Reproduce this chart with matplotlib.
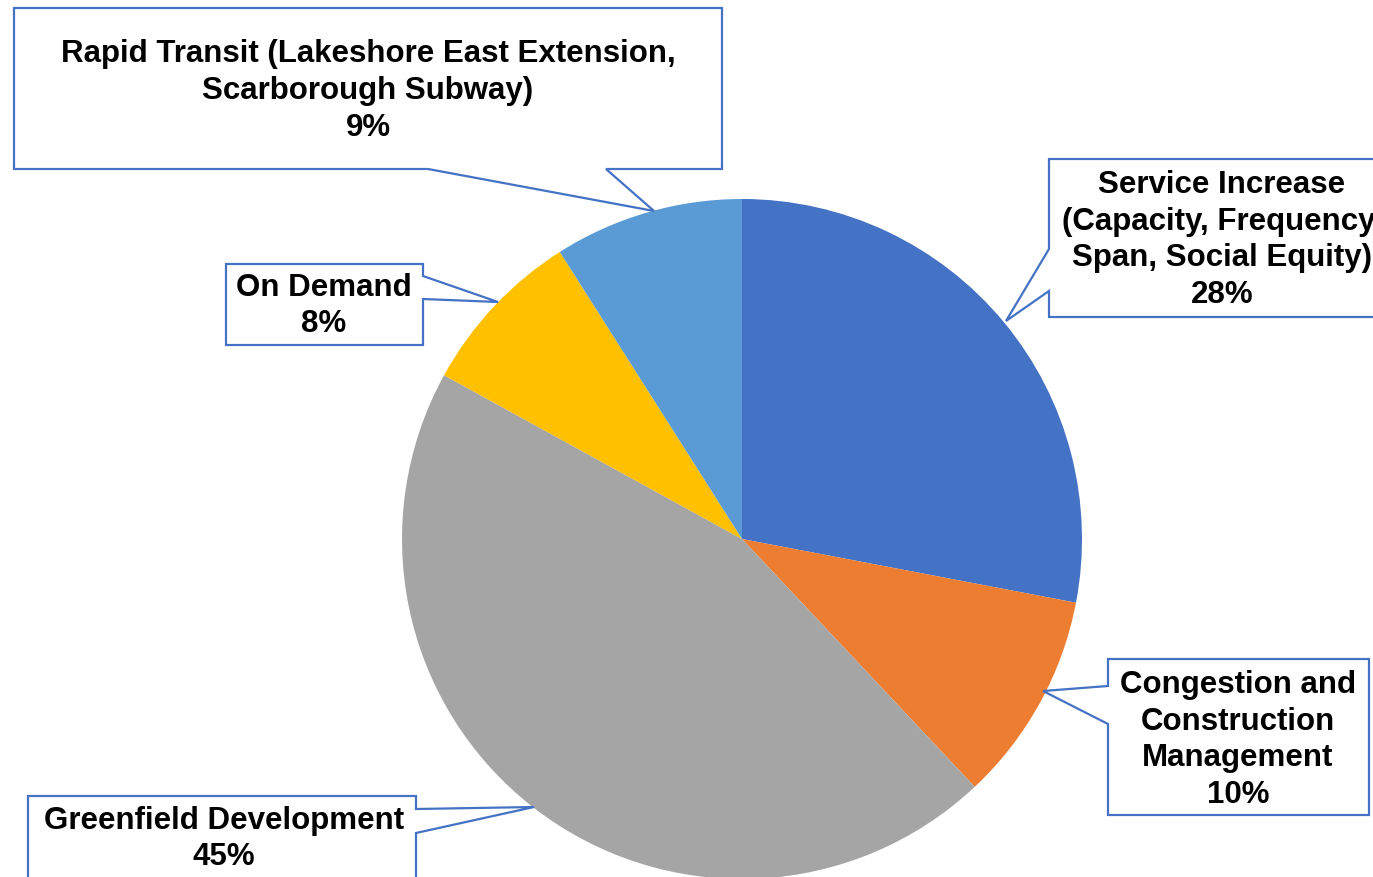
import numpy as np
import matplotlib.pyplot as plt
from matplotlib.patches import Polygon

W, H = 1373, 878

labels = [
    "Service Increase\n(Capacity, Frequency,\nSpan, Social Equity)",
    "Congestion and\nConstruction\nManagement",
    "Greenfield Development",
    "On Demand",
    "Rapid Transit (Lakeshore East Extension,\nScarborough Subway)",
]
values = [28, 10, 45, 8, 9]
colors = ["#4472C4", "#ED7D31", "#A5A5A5", "#FFC000", "#5B9BD5"]

# callout outlines in pixel coords (y down), box plus pointer
callouts = [
    [(1049, 160), (1420, 160), (1420, 318), (1049, 318), (1049, 292), (1006, 322), (1049, 250)],
    [(1108, 660), (1369, 660), (1369, 816), (1108, 816), (1108, 725), (1043, 692), (1108, 687)],
    [(28, 797), (416, 797), (416, 810), (534, 808), (416, 834), (416, 900), (28, 900)],
    [(226, 265), (423, 265), (423, 277), (498, 303), (423, 300), (423, 346), (226, 346)],
    [(14, 9), (722, 9), (722, 170), (606, 170), (654, 212), (428, 170), (14, 170)],
]
text_pos = [(1222, 240), (1238, 740), (224, 839), (324, 306), (368, 91)]


def px(x, y):
    return x, H - y


plt.rcParams['font.family'] = ['Liberation Sans', 'DejaVu Sans']

fig = plt.figure(figsize=(W / 100, H / 100), dpi=100)
ax = fig.add_axes([0, 0, 1, 1])

ax.pie(values, colors=colors, startangle=90, counterclock=False,
       center=px(742, 540), radius=340, wedgeprops=dict(linewidth=0))

for pts, (tx, ty), lab, v in zip(callouts, text_pos, labels, values):
    poly = Polygon([px(x, y) for x, y in pts], closed=True,
                   facecolor="white", edgecolor="#4472C4", linewidth=1.6, zorder=3)
    ax.add_patch(poly)
    ax.text(*px(tx, ty), f"{lab}\n{v}%", ha="center", va="center",
            fontsize=22.5, fontweight="bold", linespacing=1.3, zorder=4)

ax.set_xlim(0, W)
ax.set_ylim(0, H)
ax.set_aspect("equal")
ax.axis("off")

fig.savefig("out.png", dpi=100)
